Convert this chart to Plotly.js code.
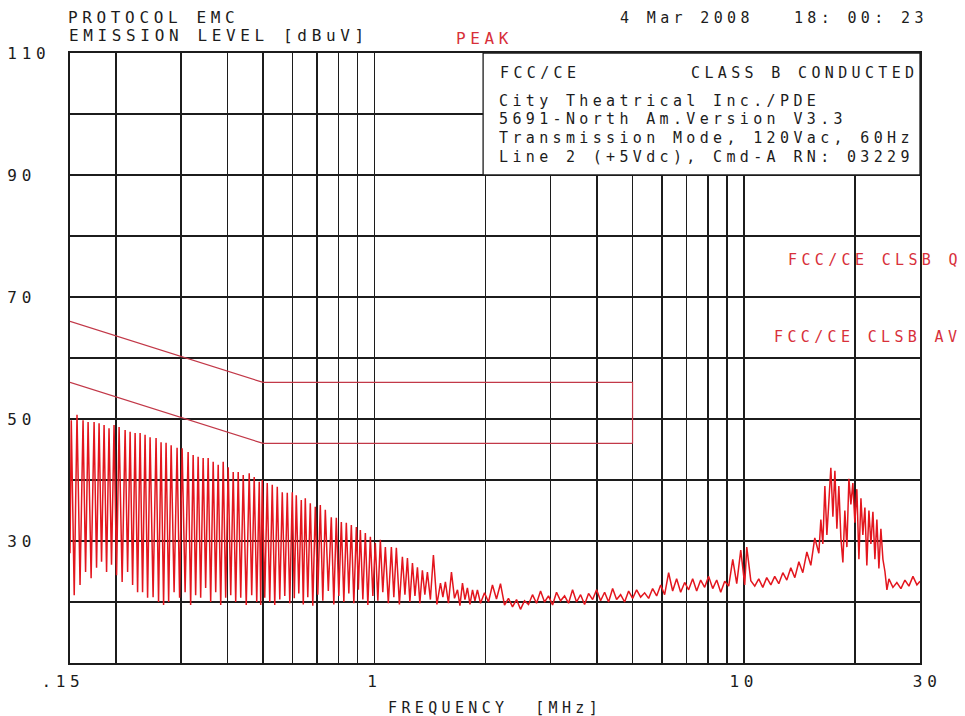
<!DOCTYPE html>
<html>
<head>
<meta charset="utf-8">
<script src="https://cdn.plot.ly/plotly-3.0.1.min.js"></script>
<style>
html,body{margin:0;padding:0;background:#fff;}
#chart{width:965px;height:716px;}
svg text{letter-spacing:0.29em;}
</style>
</head>
<body>
<div id="chart"></div>
<script>
// ---------- DATA ----------
// Peak emission trace, low-frequency comb region (MHz / dBuV)
const spikeFreq = [0.1500, 0.1512, 0.1540, 0.1567, 0.1597, 0.1627, 0.1653, 0.1679, 0.1711, 0.1743, 0.1770, 0.1798, 0.1826, 0.1855, 0.1884, 0.1913, 0.1943, 0.1974, 0.2005, 0.2037, 0.2076, 0.2115, 0.2148, 0.2182, 0.2216, 0.2251, 0.2286, 0.2322, 0.2358, 0.2395, 0.2433, 0.2471, 0.2518, 0.2565, 0.2605, 0.2646, 0.2688, 0.2730, 0.2774, 0.2818, 0.2870, 0.2924, 0.2970, 0.3017, 0.3074, 0.3132, 0.3182, 0.3232, 0.3283, 0.3334, 0.3387, 0.3440, 0.3494, 0.3549, 0.3605, 0.3662, 0.3720, 0.3778, 0.3838, 0.3898, 0.3959, 0.4021, 0.4085, 0.4149, 0.4214, 0.4280, 0.4348, 0.4416, 0.4500, 0.4584, 0.4656, 0.4729, 0.4804, 0.4880, 0.4925, 0.4972, 0.5050, 0.5129, 0.5210, 0.5292, 0.5375, 0.5460, 0.5546, 0.5633, 0.5721, 0.5811, 0.5903, 0.5996, 0.6071, 0.6147, 0.6244, 0.6342, 0.6421, 0.6502, 0.6604, 0.6708, 0.6813, 0.6920, 0.7029, 0.7140, 0.7252, 0.7366, 0.7505, 0.7647, 0.7767, 0.7889, 0.8013, 0.8140, 0.8268, 0.8397, 0.8529, 0.8664, 0.8800, 0.8939, 0.9051, 0.9164, 0.9308, 0.9454, 0.9603, 0.9754, 0.9907, 1.006, 1.022, 1.038, 1.054, 1.071, 1.091, 1.112, 1.129, 1.147, 1.169, 1.191, 1.210, 1.229, 1.248, 1.268, 1.288, 1.308, 1.328, 1.349, 1.370, 1.392, 1.418, 1.445, 1.477, 1.510, 1.533, 1.557, 1.587, 1.617, 1.648, 1.679, 1.705, 1.732, 1.759, 1.786, 1.815, 1.844, 1.872, 1.901];
const spikeLevel = [28.0, 49.8, 21.1, 50.7, 22.8, 49.8, 24.9, 49.5, 23.9, 49.5, 25.6, 49.3, 26.6, 49.0, 24.9, 48.5, 26.1, 49.0, 24.4, 48.7, 23.3, 48.2, 24.9, 47.9, 22.8, 47.7, 21.6, 47.7, 21.6, 47.4, 20.7, 47.0, 20.8, 46.9, 20.0, 46.2, 19.5, 46.1, 20.0, 45.7, 21.6, 45.3, 20.7, 45.2, 21.6, 44.6, 19.5, 44.1, 21.1, 43.8, 20.7, 43.6, 22.3, 43.6, 20.0, 43.0, 21.6, 42.5, 19.5, 43.0, 20.7, 42.1, 21.1, 41.3, 20.0, 41.3, 20.7, 40.8, 19.5, 41.1, 21.1, 40.5, 20.0, 39.7, 19.5, 40.0, 20.7, 39.5, 20.0, 39.2, 19.5, 38.9, 20.4, 38.0, 21.0, 37.9, 19.8, 38.0, 20.6, 37.5, 21.4, 36.7, 19.6, 37.0, 20.8, 36.2, 19.4, 35.6, 21.2, 35.9, 20.2, 35.1, 21.8, 33.9, 19.6, 33.8, 21.0, 33.1, 20.0, 33.0, 21.4, 32.6, 19.8, 32.3, 22.0, 31.8, 20.4, 31.3, 19.5, 30.7, 21.0, 29.7, 20.2, 30.2, 21.6, 29.0, 19.8, 29.0, 20.8, 28.9, 19.6, 27.4, 21.2, 27.2, 20.0, 26.4, 21.0, 25.7, 19.8, 25.2, 21.2, 24.9, 20.4, 27.7, 19.6, 23.1, 20.8, 23.3, 19.8, 24.9, 20.6, 22.0, 19.4, 23.1, 20.4, 22.3, 19.6, 22.0, 20.2, 22.0];

// Peak emission trace, higher-frequency noise-floor region
const noiseFreq = [1.938, 1.987, 2.037, 2.088, 2.141, 2.195, 2.251, 2.307, 2.366, 2.426, 2.487, 2.550, 2.614, 2.680, 2.748, 2.818, 2.889, 2.961, 3.037, 3.113, 3.192, 3.273, 3.355, 3.440, 3.527, 3.617, 3.708, 3.801, 3.898, 3.996, 4.097, 4.201, 4.306, 4.416, 4.527, 4.642, 4.759, 4.879, 5.003, 5.129, 5.259, 5.391, 5.527, 5.667, 5.810, 5.958, 6.107, 6.261, 6.420, 6.581, 6.749, 6.919, 7.093, 7.273, 7.457, 7.645, 7.838, 8.035, 8.241, 8.449, 8.663, 8.882, 9.105, 9.337, 9.572, 9.815, 10.06, 10.19, 10.45, 10.71, 10.98, 11.26, 11.54, 11.84, 12.13, 12.44, 12.76, 13.08, 13.41, 13.75, 14.10, 14.45, 14.82, 15.19, 15.57, 15.97, 16.17, 16.37, 16.58, 16.79, 17.00, 17.21, 17.43, 17.65, 17.87, 18.09, 18.32, 18.55, 18.78, 19.02, 19.26, 19.50, 19.74, 19.99, 20.24, 20.50, 20.76, 21.01, 21.28, 21.54, 21.82, 22.09, 22.37, 22.65, 22.93, 23.22, 23.51, 23.81, 24.11, 24.41, 24.72, 25.34, 25.97, 26.64, 27.31, 28.00, 28.71, 29.43, 30.00];
const noiseLevel = [19.8, 21.5, 20.0, 22.8, 20.5, 23.0, 19.5, 20.6, 19.2, 20.4, 18.8, 20.2, 19.6, 21.2, 19.8, 21.8, 20.0, 21.0, 19.5, 21.6, 20.2, 21.0, 19.8, 22.0, 20.0, 21.2, 19.6, 21.4, 20.4, 22.0, 20.2, 21.6, 20.0, 22.2, 20.4, 21.2, 20.0, 21.8, 20.6, 22.0, 20.8, 21.5, 20.6, 22.2, 21.0, 22.8, 21.2, 24.8, 21.8, 23.8, 21.6, 23.2, 22.0, 23.8, 21.8, 23.6, 22.4, 24.2, 22.2, 23.6, 21.6, 23.4, 22.6, 27.0, 23.0, 28.5, 22.8, 29.0, 23.5, 22.6, 23.8, 22.4, 24.0, 22.8, 24.2, 23.0, 24.8, 23.6, 25.6, 24.0, 26.6, 24.8, 28.2, 26.0, 30.5, 28.0, 33.5, 29.5, 39.0, 31.0, 36.5, 42.0, 34.0, 41.5, 32.0, 39.0, 30.5, 26.5, 35.0, 29.0, 40.2, 36.0, 39.5, 33.0, 38.5, 27.0, 37.0, 31.0, 35.5, 26.0, 35.0, 29.5, 34.8, 27.0, 33.5, 25.5, 32.0, 27.0, 25.0, 22.0, 23.8, 22.4, 23.2, 22.2, 23.6, 22.6, 24.2, 22.8, 23.4];

// FCC/CE Class B limit lines
const qpFreq  = [0.15, 0.5, 5, 5];
const qpLevel = [66, 56, 56, 46];
const avFreq  = [0.15, 0.5, 5];
const avLevel = [56, 46, 46];

// Axis ticks / grid
const xTickVals = [0.15, 0.2, 0.3, 0.4, 0.5, 0.6, 0.7, 0.8, 0.9, 1, 2, 3, 4, 5, 6, 7, 8, 9, 10, 20, 30];
const xTickText = ['.15\u00a0', '', '', '', '', '', '', '', '', '1', '', '', '', '', '', '', '', '', '10', '', '\u00a030'];
const yTickVals = [10, 20, 30, 40, 50, 60, 70, 80, 90, 100, 110];
const yTickText = ['', '', '30\u00a0', '', '50\u00a0', '', '70\u00a0', '', '90\u00a0', '', '110'];

// Texts
const headerLeft = ['PROTOCOL EMC', 'EMISSION LEVEL [dBuV]'];
const headerMode = 'PEAK';
const headerDate = '4 Mar 2008   18: 00: 23';
const boxTitleLeft = 'FCC/CE';
const boxTitleRight = 'CLASS B CONDUCTED';
const boxLines = ['City Theatrical Inc./PDE', '5691-North Am.Version V3.3', 'Transmission Mode, 120Vac, 60Hz', 'Line 2 (+5Vdc), Cmd-A RN: 03229'];
const limitLabels = ['FCC/CE CLSB Q', 'FCC/CE CLSB AV'];
const xTitle = 'FREQUENCY  [MHz]';

// ---------- CHART ----------
const FONT = 'DejaVu Sans Mono';
const INK = '#1c1c1c';
const RED = '#e3161e';
const LIM = '#c23848';

const traces = [
  {x: qpFreq, y: qpLevel, type: 'scatter', mode: 'lines', line: {color: LIM, width: 1.2}, hoverinfo: 'skip'},
  {x: avFreq, y: avLevel, type: 'scatter', mode: 'lines', line: {color: LIM, width: 1.2}, hoverinfo: 'skip'},
  {x: spikeFreq.concat(noiseFreq), y: spikeLevel.concat(noiseLevel), type: 'scatter', mode: 'lines',
   line: {color: RED, width: 1.5}, hoverinfo: 'skip'}
];

const bigFont = {family: FONT, size: 16, color: INK};
const smallFont = {family: FONT, size: 15, color: INK};
const redBig = {family: FONT, size: 16, color: '#d8303a'};
const redSmall = {family: FONT, size: 15, color: '#d8303a'};

const annotations = [];
annotations.push({xref: 'paper', yref: 'paper', x: -0.003, y: 1.028, xanchor: 'left', yanchor: 'middle', text: headerLeft[1], showarrow: false, font: bigFont});
annotations.push({xref: 'paper', yref: 'paper', x: 0.452, y: 1.024, xanchor: 'left', yanchor: 'middle', text: headerMode, showarrow: false, font: redBig});
annotations.push({xref: 'paper', yref: 'paper', x: 0.645, y: 1.057, xanchor: 'left', yanchor: 'middle', text: headerDate, showarrow: false, font: smallFont});
annotations.push({xref: 'paper', yref: 'y', x: 0.504, y: 106.7, xanchor: 'left', yanchor: 'middle', text: boxTitleLeft, showarrow: false, font: smallFont});
annotations.push({xref: 'paper', yref: 'y', x: 1.0, y: 106.7, xanchor: 'right', yanchor: 'middle', text: boxTitleRight, showarrow: false, font: smallFont});
const boxY = [102.2, 99.1, 96.1, 93.0];
boxLines.forEach((t, i) => annotations.push({xref: 'paper', yref: 'y', x: 0.504, y: boxY[i], xanchor: 'left', yanchor: 'middle', text: t, showarrow: false, borderpad: 0, font: smallFont}));
annotations.push({xref: 'paper', yref: 'y', x: 0.842, y: 76.1, xanchor: 'left', yanchor: 'middle', text: limitLabels[0], showarrow: false, font: redSmall});
annotations.push({xref: 'paper', yref: 'y', x: 0.826, y: 63.4, xanchor: 'left', yanchor: 'middle', text: limitLabels[1], showarrow: false, font: redSmall});
annotations.push({xref: 'paper', yref: 'paper', x: 0.5, y: -0.074, xanchor: 'center', yanchor: 'middle', text: xTitle, showarrow: false, font: smallFont});

const axisCommon = {
  showgrid: true, gridcolor: INK, gridwidth: 1.5,
  showline: true, linecolor: INK, linewidth: 1.6, mirror: true,
  zeroline: false, ticks: '', tickmode: 'array', fixedrange: true,
  tickfont: bigFont
};

const layout = {
  width: 965, height: 716,
  margin: {l: 70, r: 45, t: 53, b: 53},
  paper_bgcolor: '#ffffff', plot_bgcolor: '#ffffff',
  showlegend: false,
  font: bigFont,
  title: {text: headerLeft[0], xref: 'container', yref: 'container', x: 0.0705, y: 0.976, xanchor: 'left', yanchor: 'middle', font: bigFont},
  xaxis: Object.assign({}, axisCommon, {
    type: 'log', range: [Math.log10(0.15), Math.log10(30)],
    tickvals: xTickVals, ticktext: xTickText, ticklabelstandoff: 3
  }),
  yaxis: Object.assign({}, axisCommon, {
    range: [10, 110], tickvals: yTickVals, ticktext: yTickText, ticklabelstandoff: 15
  }),
  shapes: [
    {type: 'rect', xref: 'paper', yref: 'y', x0: 0.486, x1: 1, y0: 90, y1: 110,
     fillcolor: '#ffffff', line: {color: INK, width: 1.3}, layer: 'above'}
  ],
  annotations: annotations
};

Plotly.newPlot('chart', traces, layout, {displayModeBar: false, staticPlot: true});
</script>
</body>
</html>
